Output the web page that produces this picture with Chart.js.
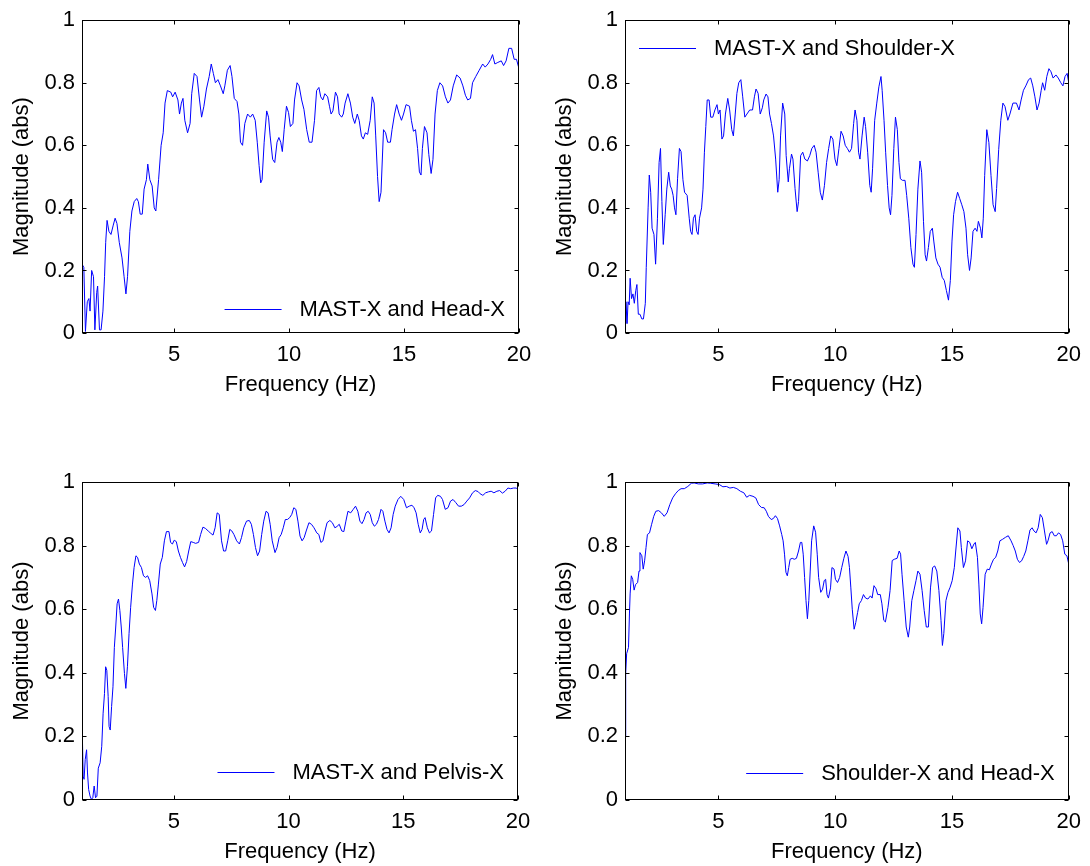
<!DOCTYPE html>
<html>
<head>
<meta charset="utf-8">
<script src="https://cdn.jsdelivr.net/npm/chart.js@4.4.0/dist/chart.umd.min.js"></script>
<style>
  body { margin: 0; background: #fff; }
  .panel { position: absolute; }
</style>
</head>
<body>
<div class="panel" style="left:0;top:0;width:545px;height:400px"><canvas id="c1"></canvas></div>
<div class="panel" style="left:545px;top:0;width:545px;height:400px"><canvas id="c2"></canvas></div>
<div class="panel" style="left:0;top:433px;width:545px;height:433px"><canvas id="c3"></canvas></div>
<div class="panel" style="left:545px;top:433px;width:545px;height:433px"><canvas id="c4"></canvas></div>
<script>
// tick values and labels shared by all four axes
const xTickValues = [5, 10, 15, 20];
const yTickValues = [0, 0.2, 0.4, 0.6, 0.8, 1];
const yTickLabels = ['0', '0.2', '0.4', '0.6', '0.8', '1'];

// MAST-X and Head-X
const mastHeadFreq = [1.00,1.08,1.15,1.23,1.30,1.35,1.42,1.50,1.56,1.64,1.68,1.76,1.83,1.91,1.98,2.03,2.09,2.17,2.26,2.36,
  2.44,2.52,2.62,2.74,2.83,2.91,2.98,3.08,3.17,3.27,3.38,3.45,3.53,3.62,3.70,3.80,3.86,3.95,4.05,4.14,
  4.21,4.33,4.44,4.53,4.61,4.71,4.86,4.94,5.05,5.17,5.24,5.32,5.39,5.47,5.59,5.70,5.77,5.88,6.00,6.11,
  6.20,6.30,6.41,6.53,6.62,6.71,6.80,6.91,7.02,7.14,7.21,7.32,7.44,7.52,7.62,7.74,7.82,7.89,7.98,8.08,
  8.20,8.32,8.42,8.53,8.62,8.70,8.77,8.83,8.92,9.03,9.11,9.18,9.29,9.38,9.48,9.56,9.64,9.71,9.79,9.89,
  9.98,10.06,10.17,10.24,10.35,10.44,10.55,10.65,10.77,10.88,11.00,11.11,11.20,11.30,11.38,11.47,11.56,11.68,11.76,11.83,
  11.91,12.02,12.11,12.18,12.29,12.36,12.44,12.56,12.67,12.77,12.86,12.97,13.05,13.15,13.23,13.32,13.42,13.53,13.62,13.70,
  13.77,13.85,13.92,14.00,14.11,14.20,14.29,14.41,14.48,14.59,14.68,14.79,14.89,14.98,15.09,15.24,15.32,15.41,15.50,15.59,
  15.67,15.74,15.80,15.89,16.00,16.08,16.18,16.26,16.35,16.45,16.56,16.68,16.80,16.91,17.02,17.14,17.29,17.44,17.56,17.67,
  17.77,17.89,17.98,18.12,18.27,18.42,18.53,18.65,18.77,18.85,18.95,19.08,19.23,19.33,19.44,19.56,19.68,19.79,19.89,20.00];
const mastHeadMag = [0.22,0.21,0.005,0.10,0.11,0.07,0.20,0.18,0.01,0.13,0.15,0.01,0.01,0.07,0.18,0.29,0.36,0.325,0.315,0.345,
  0.367,0.35,0.29,0.24,0.18,0.125,0.18,0.325,0.39,0.42,0.43,0.42,0.38,0.38,0.46,0.49,0.54,0.49,0.47,0.40,
  0.39,0.49,0.60,0.64,0.735,0.775,0.77,0.755,0.77,0.745,0.70,0.735,0.75,0.68,0.64,0.67,0.765,0.83,0.82,0.745,
  0.69,0.725,0.78,0.82,0.86,0.83,0.80,0.81,0.79,0.765,0.79,0.84,0.855,0.82,0.75,0.74,0.70,0.61,0.60,0.67,
  0.70,0.69,0.70,0.68,0.61,0.535,0.48,0.49,0.61,0.71,0.69,0.63,0.555,0.545,0.61,0.625,0.61,0.58,0.65,0.725,
  0.705,0.66,0.67,0.745,0.80,0.79,0.745,0.715,0.65,0.61,0.61,0.68,0.775,0.785,0.755,0.745,0.765,0.755,0.725,0.70,
  0.71,0.77,0.755,0.70,0.69,0.70,0.735,0.765,0.735,0.69,0.67,0.70,0.68,0.63,0.62,0.64,0.635,0.68,0.755,0.735,
  0.63,0.50,0.42,0.45,0.65,0.64,0.61,0.61,0.65,0.70,0.73,0.70,0.68,0.70,0.73,0.725,0.68,0.645,0.65,0.59,
  0.515,0.505,0.59,0.66,0.64,0.57,0.51,0.555,0.70,0.775,0.80,0.79,0.755,0.735,0.745,0.79,0.825,0.815,0.79,0.76,
  0.745,0.75,0.80,0.82,0.84,0.86,0.85,0.86,0.875,0.89,0.86,0.865,0.87,0.855,0.87,0.91,0.91,0.875,0.875,0.845];

// MAST-X and Shoulder-X
const mastShoulderFreq = [1.00,1.04,1.09,1.13,1.18,1.22,1.28,1.34,1.40,1.46,1.51,1.57,1.64,1.72,1.79,1.87,1.91,1.99,2.04,2.10,
  2.16,2.24,2.31,2.39,2.46,2.52,2.58,2.64,2.72,2.79,2.87,2.94,3.00,3.06,3.12,3.18,3.25,3.33,3.40,3.48,
  3.55,3.66,3.75,3.81,3.87,3.93,4.00,4.07,4.13,4.19,4.28,4.34,4.40,4.46,4.52,4.60,4.67,4.76,4.85,4.94,
  5.00,5.07,5.15,5.22,5.30,5.40,5.48,5.57,5.64,5.72,5.79,5.87,5.96,6.04,6.13,6.22,6.34,6.46,6.54,6.61,
  6.70,6.79,6.88,6.94,7.04,7.12,7.19,7.27,7.36,7.45,7.54,7.60,7.66,7.75,7.84,7.90,7.99,8.04,8.13,8.19,
  8.28,8.37,8.43,8.52,8.61,8.70,8.81,8.91,9.00,9.10,9.18,9.27,9.36,9.45,9.54,9.63,9.72,9.81,9.90,9.99,
  10.07,10.16,10.25,10.34,10.43,10.52,10.61,10.70,10.79,10.85,10.93,11.00,11.06,11.15,11.24,11.30,11.39,11.48,11.54,11.60,
  11.69,11.78,11.87,11.96,12.01,12.09,12.16,12.24,12.31,12.37,12.43,12.51,12.58,12.66,12.73,12.79,12.88,12.99,13.06,13.15,
  13.24,13.33,13.39,13.46,13.54,13.63,13.70,13.78,13.85,13.91,13.99,14.07,14.16,14.22,14.31,14.40,14.49,14.58,14.67,14.76,
  14.85,14.93,15.00,15.07,15.15,15.24,15.33,15.42,15.51,15.60,15.67,15.75,15.82,15.90,15.99,16.07,16.13,16.22,16.28,16.34,
  16.40,16.49,16.58,16.67,16.76,16.85,16.91,17.00,17.09,17.18,17.27,17.39,17.48,17.61,17.76,17.87,17.96,18.06,18.16,18.28,
  18.37,18.46,18.55,18.64,18.73,18.82,18.88,18.97,19.06,19.15,19.24,19.33,19.45,19.55,19.66,19.75,19.84,19.93,20.00];
const mastShoulderMag = [0.03,0.10,0.03,0.10,0.09,0.175,0.11,0.125,0.095,0.135,0.155,0.06,0.06,0.045,0.045,0.095,0.21,0.40,0.505,0.45,
  0.335,0.315,0.22,0.367,0.545,0.59,0.42,0.283,0.378,0.46,0.514,0.47,0.46,0.44,0.40,0.378,0.493,0.59,0.58,0.49,
  0.45,0.44,0.367,0.325,0.315,0.367,0.378,0.325,0.315,0.367,0.40,0.46,0.578,0.66,0.745,0.745,0.69,0.69,0.713,0.73,
  0.70,0.713,0.62,0.63,0.70,0.75,0.713,0.65,0.63,0.70,0.766,0.80,0.81,0.755,0.69,0.70,0.713,0.713,0.755,0.78,
  0.766,0.70,0.72,0.745,0.764,0.755,0.70,0.67,0.63,0.556,0.45,0.49,0.63,0.735,0.70,0.567,0.483,0.525,0.572,0.556,
  0.462,0.388,0.42,0.567,0.578,0.556,0.55,0.567,0.59,0.60,0.578,0.514,0.45,0.425,0.472,0.545,0.59,0.63,0.62,0.556,
  0.535,0.59,0.645,0.63,0.60,0.59,0.578,0.59,0.67,0.713,0.68,0.578,0.556,0.63,0.69,0.66,0.578,0.472,0.45,0.525,
  0.68,0.735,0.787,0.82,0.776,0.68,0.578,0.472,0.40,0.378,0.44,0.59,0.69,0.65,0.545,0.493,0.488,0.488,0.44,0.367,
  0.273,0.22,0.21,0.315,0.46,0.55,0.514,0.357,0.25,0.23,0.273,0.325,0.335,0.294,0.24,0.22,0.21,0.178,0.168,0.136,
  0.105,0.168,0.294,0.378,0.42,0.45,0.43,0.41,0.388,0.335,0.25,0.20,0.24,0.325,0.335,0.325,0.357,0.335,0.304,0.367,
  0.504,0.65,0.609,0.504,0.41,0.388,0.462,0.587,0.68,0.735,0.724,0.68,0.70,0.735,0.735,0.713,0.745,0.776,0.79,0.81,
  0.815,0.79,0.755,0.713,0.735,0.776,0.80,0.776,0.82,0.845,0.835,0.815,0.825,0.815,0.80,0.79,0.82,0.83,0.80];

// MAST-X and Pelvis-X
const mastPelvisFreq = [1.00,1.05,1.09,1.14,1.20,1.24,1.29,1.35,1.41,1.47,1.53,1.59,1.65,1.71,1.79,1.86,1.92,1.98,2.03,2.08,
  2.14,2.18,2.23,2.29,2.35,2.41,2.47,2.53,2.59,2.65,2.71,2.77,2.85,2.91,2.98,3.05,3.12,3.20,3.27,3.35,
  3.42,3.50,3.59,3.68,3.77,3.86,3.95,4.05,4.12,4.20,4.26,4.33,4.41,4.50,4.59,4.68,4.79,4.86,4.94,5.02,
  5.11,5.20,5.29,5.38,5.47,5.56,5.65,5.74,5.85,5.95,6.08,6.17,6.27,6.38,6.50,6.59,6.71,6.80,6.89,6.98,
  7.08,7.17,7.26,7.35,7.44,7.53,7.62,7.74,7.86,7.95,8.05,8.17,8.29,8.38,8.47,8.56,8.65,8.74,8.83,8.92,
  9.02,9.11,9.20,9.29,9.41,9.50,9.59,9.68,9.77,9.86,9.95,10.05,10.14,10.23,10.32,10.41,10.50,10.59,10.68,10.77,
  10.89,11.00,11.11,11.23,11.32,11.41,11.50,11.59,11.68,11.80,11.91,12.02,12.11,12.21,12.32,12.41,12.50,12.59,12.71,12.82,
  12.92,13.02,13.11,13.20,13.29,13.38,13.47,13.56,13.65,13.74,13.83,13.92,14.03,14.11,14.20,14.29,14.38,14.47,14.56,14.65,
  14.77,14.89,15.02,15.14,15.26,15.38,15.47,15.56,15.65,15.74,15.82,15.89,15.95,16.05,16.14,16.23,16.32,16.41,16.50,16.62,
  16.71,16.83,16.95,17.06,17.17,17.29,17.41,17.53,17.65,17.77,17.89,18.02,18.14,18.26,18.35,18.47,18.59,18.71,18.83,18.95,
  19.08,19.20,19.32,19.44,19.56,19.68,19.80,19.92,20.00];
const mastPelvisMag = [0.26,0.075,0.065,0.127,0.158,0.085,0.033,0.0125,0.002,0.007,0.044,0.007,0.012,0.10,0.117,0.169,0.273,0.335,0.419,0.408,
  0.325,0.231,0.22,0.294,0.356,0.48,0.544,0.617,0.632,0.596,0.544,0.48,0.398,0.351,0.419,0.523,0.606,0.679,0.731,0.768,
  0.763,0.742,0.731,0.705,0.70,0.705,0.69,0.648,0.606,0.596,0.627,0.679,0.742,0.763,0.815,0.844,0.844,0.81,0.805,0.817,
  0.8125,0.783,0.763,0.747,0.733,0.75,0.783,0.8125,0.81,0.807,0.81,0.835,0.858,0.854,0.846,0.84,0.833,0.856,0.903,0.898,
  0.815,0.783,0.783,0.815,0.851,0.846,0.835,0.815,0.805,0.825,0.856,0.877,0.879,0.867,0.835,0.794,0.768,0.783,0.835,0.877,
  0.908,0.903,0.867,0.815,0.778,0.794,0.825,0.835,0.856,0.882,0.882,0.888,0.898,0.919,0.914,0.877,0.83,0.815,0.825,0.846,
  0.872,0.867,0.856,0.84,0.835,0.81,0.815,0.846,0.872,0.879,0.872,0.856,0.86,0.867,0.846,0.844,0.877,0.908,0.903,0.914,
  0.924,0.908,0.877,0.869,0.882,0.903,0.908,0.898,0.872,0.861,0.867,0.882,0.914,0.908,0.877,0.851,0.84,0.856,0.898,0.924,
  0.945,0.955,0.945,0.919,0.924,0.927,0.919,0.903,0.867,0.84,0.851,0.882,0.888,0.856,0.84,0.846,0.898,0.95,0.958,0.955,
  0.945,0.914,0.919,0.94,0.945,0.935,0.924,0.924,0.929,0.94,0.95,0.966,0.973,0.97,0.963,0.958,0.966,0.969,0.971,0.966,
  0.971,0.973,0.965,0.971,0.981,0.979,0.981,0.981,0.976];

// Shoulder-X and Head-X
const shoulderHeadFreq = [1.00,1.03,1.07,1.15,1.19,1.22,1.27,1.33,1.39,1.45,1.54,1.60,1.64,1.72,1.78,1.84,1.90,1.96,2.05,2.14,
  2.23,2.32,2.44,2.56,2.68,2.80,2.92,3.04,3.16,3.28,3.40,3.54,3.69,3.84,3.96,4.14,4.32,4.52,4.67,4.86,
  5.04,5.19,5.34,5.49,5.64,5.79,5.94,6.09,6.21,6.33,6.48,6.60,6.72,6.84,6.96,7.05,7.14,7.26,7.35,7.44,
  7.53,7.62,7.71,7.77,7.83,7.89,7.95,8.01,8.07,8.16,8.25,8.34,8.43,8.51,8.57,8.63,8.69,8.75,8.81,8.87,
  8.93,8.99,9.08,9.16,9.23,9.29,9.38,9.46,9.53,9.59,9.65,9.71,9.80,9.86,9.95,10.01,10.10,10.19,10.28,10.37,
  10.46,10.55,10.61,10.67,10.73,10.81,10.88,10.96,11.03,11.12,11.21,11.30,11.40,11.51,11.58,11.66,11.75,11.82,11.93,12.00,
  12.08,12.15,12.26,12.35,12.44,12.53,12.65,12.74,12.80,12.86,12.95,13.04,13.13,13.19,13.28,13.37,13.46,13.54,13.63,13.72,
  13.81,13.90,13.99,14.08,14.17,14.26,14.35,14.44,14.53,14.59,14.65,14.74,14.83,14.92,15.01,15.10,15.16,15.25,15.34,15.40,
  15.49,15.58,15.67,15.76,15.85,15.94,16.00,16.09,16.15,16.21,16.27,16.33,16.42,16.51,16.60,16.69,16.78,16.87,16.96,17.05,
  17.17,17.29,17.41,17.53,17.62,17.71,17.80,17.89,17.98,18.07,18.16,18.25,18.34,18.43,18.51,18.60,18.69,18.78,18.87,18.96,
  19.05,19.11,19.20,19.29,19.38,19.47,19.56,19.65,19.74,19.83,19.92,20.00];
const shoulderHeadMag = [0.20,0.398,0.46,0.48,0.585,0.648,0.705,0.694,0.66,0.677,0.684,0.72,0.778,0.768,0.726,0.752,0.794,0.835,0.84,0.867,
  0.892,0.908,0.91,0.903,0.892,0.903,0.929,0.95,0.963,0.973,0.979,0.979,0.986,0.996,0.997,0.994,0.994,0.997,0.996,0.994,
  0.992,0.985,0.986,0.981,0.983,0.979,0.971,0.966,0.952,0.958,0.955,0.95,0.929,0.92,0.919,0.908,0.892,0.882,0.885,0.894,
  0.885,0.862,0.835,0.815,0.773,0.716,0.705,0.731,0.757,0.76,0.757,0.76,0.783,0.81,0.81,0.773,0.70,0.627,0.57,0.627,
  0.72,0.815,0.862,0.842,0.773,0.70,0.653,0.663,0.69,0.694,0.646,0.635,0.667,0.731,0.726,0.694,0.684,0.70,0.731,0.76,
  0.783,0.766,0.731,0.667,0.60,0.537,0.558,0.59,0.617,0.627,0.646,0.635,0.632,0.642,0.635,0.674,0.664,0.646,0.646,0.617,
  0.565,0.56,0.606,0.659,0.753,0.757,0.76,0.783,0.773,0.71,0.627,0.544,0.512,0.544,0.627,0.659,0.69,0.72,0.71,0.659,
  0.596,0.544,0.544,0.667,0.731,0.736,0.72,0.659,0.565,0.486,0.523,0.627,0.653,0.669,0.69,0.731,0.783,0.856,0.846,0.794,
  0.731,0.752,0.815,0.81,0.79,0.805,0.81,0.763,0.679,0.585,0.554,0.606,0.71,0.726,0.724,0.742,0.757,0.763,0.783,0.815,
  0.82,0.826,0.831,0.815,0.80,0.783,0.757,0.747,0.752,0.766,0.783,0.815,0.849,0.856,0.846,0.84,0.856,0.898,0.888,0.846,
  0.804,0.815,0.84,0.844,0.831,0.831,0.84,0.835,0.815,0.773,0.768,0.742];

const FONT = { family: '"Liberation Sans", Arial, Helvetica, sans-serif', size: 22 };
const LINE_BLUE = 'rgb(0,0,255)';

// draws the MATLAB style box with inward ticks, plus the legend inside the axes
const matlabAxes = {
  id: 'matlabAxes',
  afterDatasetsDraw(chart, args, opts) {
    const { ctx, chartArea: a, scales } = chart;
    const L = Math.round(a.left) + 0.5, R = Math.round(a.right) - 0.5;
    const T = Math.round(a.top) + 0.5, B = Math.round(a.bottom) - 0.5;
    const tl = 4;
    ctx.save();
    ctx.strokeStyle = '#000';
    ctx.lineWidth = 1;
    ctx.strokeRect(L, T, R - L, B - T);
    ctx.beginPath();
    xTickValues.forEach(v => {
      const x = Math.round(scales.x.getPixelForValue(v)) + 0.5;
      ctx.moveTo(x, B); ctx.lineTo(x, B - tl);
      ctx.moveTo(x, T); ctx.lineTo(x, T + tl);
    });
    yTickValues.forEach(v => {
      const y = Math.round(scales.y.getPixelForValue(v)) + 0.5;
      ctx.moveTo(L, y); ctx.lineTo(L + tl, y);
      ctx.moveTo(R, y); ctx.lineTo(R - tl, y);
    });
    ctx.stroke();

    // legend: blue sample line + text, no frame
    const label = chart.data.datasets[0].label;
    ctx.font = FONT.size + 'px ' + FONT.family;
    const tw = ctx.measureText(label).width;
    let lineStart, textLeft, y;
    if (opts.corner === 'nw') {
      lineStart = a.left + 14;
      textLeft = lineStart + 57 + 18;
      y = a.top + opts.offset;
    } else {
      textLeft = a.right - 14 - tw;
      lineStart = textLeft - 18 - 57;
      y = a.bottom - opts.offset;
    }
    ctx.strokeStyle = LINE_BLUE;
    ctx.beginPath();
    ctx.moveTo(lineStart, Math.round(y) + 0.5);
    ctx.lineTo(lineStart + 57, Math.round(y) + 0.5);
    ctx.stroke();
    ctx.fillStyle = '#000';
    ctx.textBaseline = 'middle';
    ctx.textAlign = 'left';
    ctx.fillText(label, textLeft, y + 1);
    ctx.restore();
  }
};

const panels = [
  { id: 'c1', label: 'MAST-X and Head-X', freq: mastHeadFreq, mag: mastHeadMag,
    padTop: 16, padRight: 26, yAxisW: 82, xAxisH: 67, yTitlePad: 9, xTitlePad: 2, corner: 'se', offset: 24 },
  { id: 'c2', label: 'MAST-X and Shoulder-X', freq: mastShoulderFreq, mag: mastShoulderMag,
    padTop: 16, padRight: 20, yAxisW: 80, xAxisH: 67, yTitlePad: 7, xTitlePad: 2, corner: 'nw', offset: 28 },
  { id: 'c3', label: 'MAST-X and Pelvis-X', freq: mastPelvisFreq, mag: mastPelvisMag,
    padTop: 49, padRight: 27, yAxisW: 82, xAxisH: 66, yTitlePad: 9, xTitlePad: 1, corner: 'se', offset: 28 },
  { id: 'c4', label: 'Shoulder-X and Head-X', freq: shoulderHeadFreq, mag: shoulderHeadMag,
    padTop: 49, padRight: 20, yAxisW: 80, xAxisH: 66, yTitlePad: 7, xTitlePad: 1, corner: 'se', offset: 27 }
];

panels.forEach(p => {
  new Chart(document.getElementById(p.id), {
    type: 'line',
    data: {
      datasets: [{
        label: p.label,
        data: p.freq.map((f, i) => ({ x: f, y: p.mag[i] })),
        borderColor: LINE_BLUE,
        borderWidth: 1,
        pointRadius: 0,
        tension: 0,
        fill: false
      }]
    },
    options: {
      responsive: true,
      maintainAspectRatio: false,
      animation: false,
      events: [],
      layout: { padding: { left: 0, top: p.padTop, right: p.padRight, bottom: 0 } },
      plugins: {
        legend: { display: false },
        tooltip: { enabled: false },
        matlabAxes: { corner: p.corner, offset: p.offset }
      },
      scales: {
        x: {
          type: 'linear', min: 1, max: 20,
          grid: { display: false, drawTicks: false },
          border: { display: false },
          afterBuildTicks: s => { s.ticks = xTickValues.map(v => ({ value: v })); },
          afterFit: s => { s.height = p.xAxisH; },
          ticks: { color: '#000', font: FONT, padding: 9, maxRotation: 0, autoSkip: false,
                   callback: v => String(v) },
          title: { display: true, text: 'Frequency (Hz)', color: '#000', font: FONT,
                   padding: { top: 0, bottom: p.xTitlePad } }
        },
        y: {
          type: 'linear', min: 0, max: 1,
          grid: { display: false, drawTicks: false },
          border: { display: false },
          afterBuildTicks: s => { s.ticks = yTickValues.map(v => ({ value: v })); },
          afterFit: s => { s.width = p.yAxisW; },
          ticks: { color: '#000', font: FONT, padding: 7, autoSkip: false,
                   callback: v => yTickLabels[yTickValues.indexOf(v)] },
          title: { display: true, text: 'Magnitude (abs)', color: '#000', font: FONT,
                   padding: { top: p.yTitlePad, bottom: 0 } }
        }
      }
    },
    plugins: [matlabAxes]
  });
});
</script>
</body>
</html>
